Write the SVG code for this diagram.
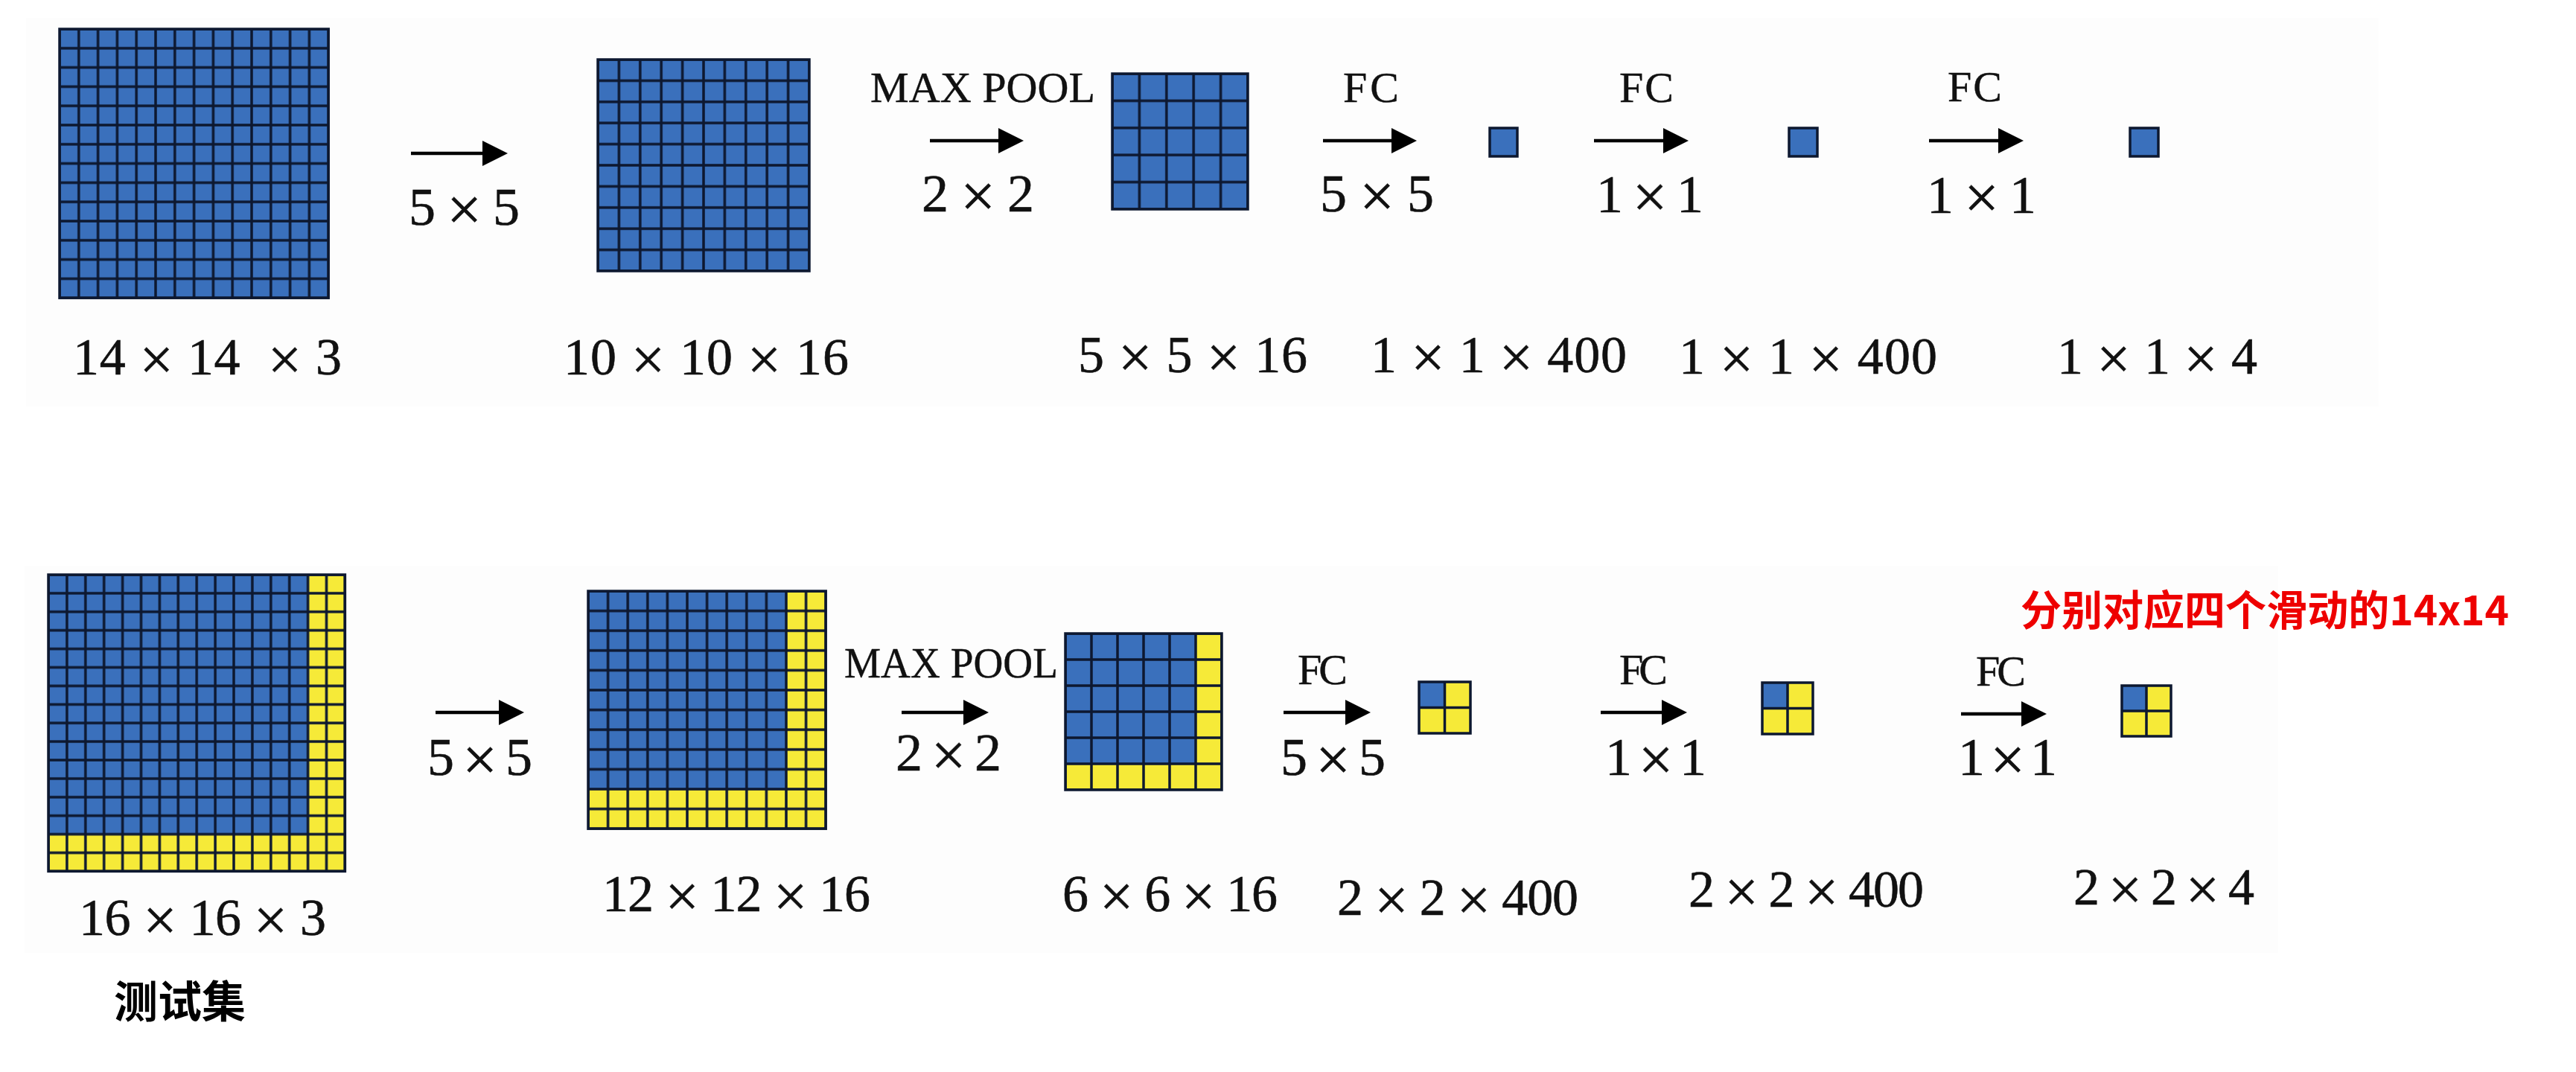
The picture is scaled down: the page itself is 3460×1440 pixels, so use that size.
<svg xmlns="http://www.w3.org/2000/svg" width="3460" height="1440" viewBox="0 0 3460 1440">
<style>
.lbl{font-family:"Liberation Serif","Times New Roman",serif;font-size:70px;fill:#111;stroke:#111;stroke-width:0.6;}
.op{font-family:"Liberation Serif","Times New Roman",serif;font-size:72px;fill:#111;stroke:#111;stroke-width:0.6;}
.cap{font-family:"Liberation Serif","Times New Roman",serif;font-size:58px;fill:#111;stroke:#111;stroke-width:0.4;}
.x{font-size:1.15em;}
.cjk{font-family:"Noto Sans CJK SC","Noto Sans",sans-serif;font-weight:bold;}
.blue{fill:#3A70BC;}
.yel{fill:#F6EA38;}
.frame{stroke:#0d1830;stroke-width:3.5;}
.arrow{stroke:#000;stroke-width:4.5;fill:none;marker-end:url(#ah);}
.cellline{fill:none;stroke:#0d1830;stroke-width:3.5;}
</style>
<defs>
<marker id="ah" markerUnits="userSpaceOnUse" viewBox="0 0 34 34" markerWidth="34" markerHeight="34" refX="14" refY="17" orient="auto">
<path d="M0 0L34 17L0 34Z" fill="#000"/>
</marker>
<pattern id="pG1" patternUnits="userSpaceOnUse" x="80" y="39" width="25.8" height="25.8"><rect width="25.8" height="25.8" class="cellline"/></pattern>
<pattern id="pG2" patternUnits="userSpaceOnUse" x="803" y="80" width="28.4" height="28.4"><rect width="28.4" height="28.4" class="cellline"/></pattern>
<pattern id="pG3" patternUnits="userSpaceOnUse" x="1494" y="99" width="36.4" height="36.4"><rect width="36.4" height="36.4" class="cellline"/></pattern>
<pattern id="pB1" patternUnits="userSpaceOnUse" x="65" y="772" width="24.9" height="24.9"><rect width="24.9" height="24.9" class="cellline"/></pattern>
<pattern id="pB2" patternUnits="userSpaceOnUse" x="790" y="794" width="26.6" height="26.6"><rect width="26.6" height="26.6" class="cellline"/></pattern>
<pattern id="pB3" patternUnits="userSpaceOnUse" x="1431" y="851" width="35" height="35"><rect width="35" height="35" class="cellline"/></pattern>
</defs>
<rect width="3460" height="1440" fill="#fff"/>
<rect x="35" y="24" width="3160" height="522" fill="#fdfdfd"/>
<rect x="33" y="760" width="3027" height="520" fill="#fdfdfd"/>

<!-- top row nodes -->
<g id="in14">
<rect x="80" y="39" width="361.2" height="361.2" class="blue"/>
<rect x="80" y="39" width="361.2" height="361.2" fill="url(#pG1)" class="frame"/>
<text class="lbl" x="98" y="503" xml:space="preserve" textLength="361" lengthAdjust="spacing">14 <tspan class="x" dy="7">×</tspan><tspan dy="-7"> 14  </tspan><tspan class="x" dy="7">×</tspan><tspan dy="-7"> 3</tspan></text>
</g>
<g id="conv10">
<rect x="803" y="80" width="284" height="284" class="blue"/>
<rect x="803" y="80" width="284" height="284" fill="url(#pG2)" class="frame"/>
<text class="lbl" x="757" y="503" textLength="383" lengthAdjust="spacing">10 <tspan class="x" dy="7">×</tspan><tspan dy="-7"> 10 </tspan><tspan class="x" dy="7">×</tspan><tspan dy="-7"> 16</tspan></text>
</g>
<g id="pool5">
<rect x="1494" y="99" width="182" height="182" class="blue"/>
<rect x="1494" y="99" width="182" height="182" fill="url(#pG3)" class="frame"/>
<text class="lbl" x="1448" y="500" textLength="308" lengthAdjust="spacing">5 <tspan class="x" dy="7">×</tspan><tspan dy="-7"> 5 </tspan><tspan class="x" dy="7">×</tspan><tspan dy="-7"> 16</tspan></text>
</g>
<g id="fc400a">
<rect x="2001" y="172" width="37" height="38" class="blue frame"/>
<text class="lbl" x="1841" y="500" textLength="344" lengthAdjust="spacing">1 <tspan class="x" dy="7">×</tspan><tspan dy="-7"> 1 </tspan><tspan class="x" dy="7">×</tspan><tspan dy="-7"> 400</tspan></text>
</g>
<g id="fc400b">
<rect x="2403" y="172" width="38" height="38" class="blue frame"/>
<text class="lbl" x="2255" y="502" textLength="347" lengthAdjust="spacing">1 <tspan class="x" dy="7">×</tspan><tspan dy="-7"> 1 </tspan><tspan class="x" dy="7">×</tspan><tspan dy="-7"> 400</tspan></text>
</g>
<g id="out4">
<rect x="2861" y="172" width="38" height="38" class="blue frame"/>
<text class="lbl" x="2763" y="502" textLength="269" lengthAdjust="spacing">1 <tspan class="x" dy="7">×</tspan><tspan dy="-7"> 1 </tspan><tspan class="x" dy="7">×</tspan><tspan dy="-7"> 4</tspan></text>
</g>

<!-- bottom row nodes -->
<g id="in16">
<rect x="65" y="772" width="398.4" height="398.4" class="yel"/>
<rect x="65" y="772" width="348.6" height="348.6" class="blue"/>
<rect x="65" y="772" width="398.4" height="398.4" fill="url(#pB1)" class="frame"/>
<text class="lbl" x="106" y="1256" textLength="332" lengthAdjust="spacing">16 <tspan class="x" dy="7">×</tspan><tspan dy="-7"> 16 </tspan><tspan class="x" dy="7">×</tspan><tspan dy="-7"> 3</tspan></text>
</g>
<g id="conv12">
<rect x="790" y="794" width="319.2" height="319.2" class="yel"/>
<rect x="790" y="794" width="266" height="266" class="blue"/>
<rect x="790" y="794" width="319.2" height="319.2" fill="url(#pB2)" class="frame"/>
<text class="lbl" x="809" y="1224" textLength="360" lengthAdjust="spacing">12 <tspan class="x" dy="7">×</tspan><tspan dy="-7"> 12 </tspan><tspan class="x" dy="7">×</tspan><tspan dy="-7"> 16</tspan></text>
</g>
<g id="pool6">
<rect x="1431" y="851" width="210" height="210" class="yel"/>
<rect x="1431" y="851" width="175" height="175" class="blue"/>
<rect x="1431" y="851" width="210" height="210" fill="url(#pB3)" class="frame"/>
<text class="lbl" x="1427" y="1224" textLength="289" lengthAdjust="spacing">6 <tspan class="x" dy="7">×</tspan><tspan dy="-7"> 6 </tspan><tspan class="x" dy="7">×</tspan><tspan dy="-7"> 16</tspan></text>
</g>
<g id="fc2x2a">
<rect x="1906" y="916" width="69" height="69" class="yel"/>
<rect x="1906" y="916" width="34.5" height="34.5" class="blue"/>
<path d="M1940.5 916V985M1906 950.5H1975" class="cellline"/>
<rect x="1906" y="916" width="69" height="69" fill="none" class="frame"/>
<text class="lbl" x="1796" y="1229" textLength="324" lengthAdjust="spacing">2 <tspan class="x" dy="7">×</tspan><tspan dy="-7"> 2 </tspan><tspan class="x" dy="7">×</tspan><tspan dy="-7"> 400</tspan></text>
</g>
<g id="fc2x2b">
<rect x="2367" y="917" width="68" height="69" class="yel"/>
<rect x="2367" y="917" width="34" height="34.5" class="blue"/>
<path d="M2401 917V986M2367 951.5H2435" class="cellline"/>
<rect x="2367" y="917" width="68" height="69" fill="none" class="frame"/>
<text class="lbl" x="2268" y="1218" textLength="316" lengthAdjust="spacing">2 <tspan class="x" dy="7">×</tspan><tspan dy="-7"> 2 </tspan><tspan class="x" dy="7">×</tspan><tspan dy="-7"> 400</tspan></text>
</g>
<g id="out2x2">
<rect x="2850" y="921" width="66" height="68" class="yel"/>
<rect x="2850" y="921" width="33" height="34" class="blue"/>
<path d="M2883 921V989M2850 955H2916" class="cellline"/>
<rect x="2850" y="921" width="66" height="68" fill="none" class="frame"/>
<text class="lbl" x="2785" y="1215" textLength="243" lengthAdjust="spacing">2 <tspan class="x" dy="7">×</tspan><tspan dy="-7"> 2 </tspan><tspan class="x" dy="7">×</tspan><tspan dy="-7"> 4</tspan></text>
</g>

<g id="note-testset">
<text class="cjk" x="153" y="1367" font-size="59" fill="#000">测试集</text>
</g>
<g id="note-red">
<text class="cjk" x="2714" y="840" font-size="56" fill="#ee0000" textLength="656" lengthAdjust="spacingAndGlyphs">分别对应四个滑动的14x14</text>
</g>

<!-- connectors -->
<g id="connectors">
<line x1="552" y1="206" x2="662" y2="206" class="arrow"/>
<text class="op" x="549" y="302" textLength="149" lengthAdjust="spacing">5 <tspan class="x" dy="7">×</tspan><tspan dy="-7"> 5</tspan></text>

<line x1="1249" y1="189" x2="1355" y2="189" class="arrow"/>
<text class="cap" x="1169" y="137" textLength="302" lengthAdjust="spacingAndGlyphs">MAX POOL</text>
<text class="op" x="1238" y="284" textLength="151" lengthAdjust="spacing">2 <tspan class="x" dy="7">×</tspan><tspan dy="-7"> 2</tspan></text>

<line x1="1777" y1="189" x2="1883" y2="189" class="arrow"/>
<text class="cap" x="1804" y="137" textLength="75" lengthAdjust="spacing">FC</text>
<text class="op" x="1773" y="284" textLength="153" lengthAdjust="spacing">5 <tspan class="x" dy="7">×</tspan><tspan dy="-7"> 5</tspan></text>

<line x1="2141" y1="189" x2="2248" y2="189" class="arrow"/>
<text class="cap" x="2175" y="137" textLength="73" lengthAdjust="spacing">FC</text>
<text class="op" x="2144" y="285" textLength="144" lengthAdjust="spacing">1 <tspan class="x" dy="7">×</tspan><tspan dy="-7"> 1</tspan></text>

<line x1="2591" y1="189" x2="2698" y2="189" class="arrow"/>
<text class="cap" x="2616" y="136" textLength="73" lengthAdjust="spacing">FC</text>
<text class="op" x="2588" y="286" textLength="147" lengthAdjust="spacing">1 <tspan class="x" dy="7">×</tspan><tspan dy="-7"> 1</tspan></text>

<line x1="585" y1="957" x2="684" y2="957" class="arrow"/>
<text class="op" x="574" y="1041" textLength="141" lengthAdjust="spacing">5 <tspan class="x" dy="7">×</tspan><tspan dy="-7"> 5</tspan></text>

<line x1="1211" y1="957" x2="1308" y2="957" class="arrow"/>
<text class="cap" x="1134" y="910" textLength="287" lengthAdjust="spacingAndGlyphs">MAX POOL</text>
<text class="op" x="1203" y="1035" textLength="142" lengthAdjust="spacing">2 <tspan class="x" dy="7">×</tspan><tspan dy="-7"> 2</tspan></text>

<line x1="1724" y1="957" x2="1821" y2="957" class="arrow"/>
<text class="cap" x="1743" y="919" textLength="67" lengthAdjust="spacing">FC</text>
<text class="op" x="1720" y="1041" textLength="141" lengthAdjust="spacing">5 <tspan class="x" dy="7">×</tspan><tspan dy="-7"> 5</tspan></text>

<line x1="2150" y1="957" x2="2246" y2="957" class="arrow"/>
<text class="cap" x="2175" y="919" textLength="65" lengthAdjust="spacing">FC</text>
<text class="op" x="2156" y="1041" textLength="136" lengthAdjust="spacing">1 <tspan class="x" dy="7">×</tspan><tspan dy="-7"> 1</tspan></text>

<line x1="2634" y1="959" x2="2729" y2="959" class="arrow"/>
<text class="cap" x="2654" y="921" textLength="67" lengthAdjust="spacing">FC</text>
<text class="op" x="2630" y="1041" textLength="133" lengthAdjust="spacing">1 <tspan class="x" dy="7">×</tspan><tspan dy="-7"> 1</tspan></text>
</g>
</svg>
